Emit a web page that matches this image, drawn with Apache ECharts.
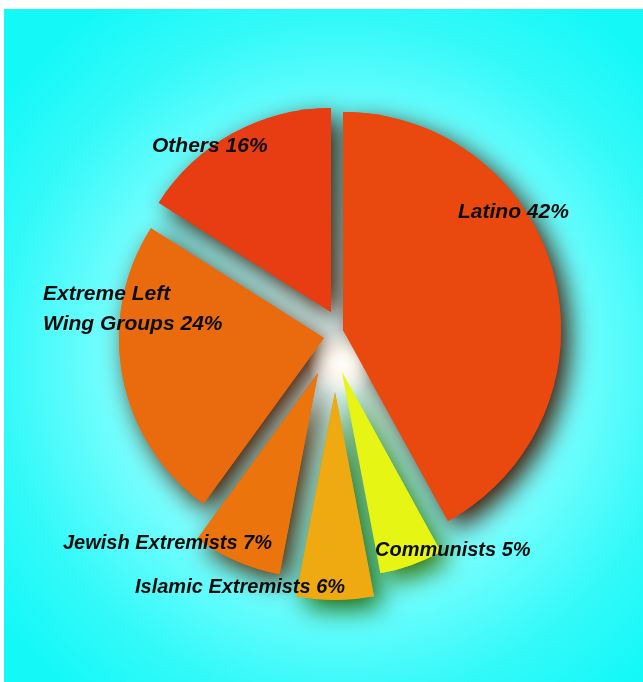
<!DOCTYPE html>
<html><head><meta charset="utf-8">
<script src="https://cdn.jsdelivr.net/npm/echarts@6/dist/echarts.min.js"></script>
<style>
html,body{margin:0;padding:0;background:#fff;}
#chart{position:absolute;left:4px;top:9px;width:639px;height:673px;
background:radial-gradient(circle at 337px 352px,#ffffff 0px,#e2ffff 35px,#b4ffff 110px,#88ffff 200px,#5efcfc 270px,#34f9f9 340px,#14f8f8 430px);}
</style></head><body><div id="chart"></div>
<script>
// ---- data ----
const categories = ['Latino', 'Communists', 'Islamic Extremists', 'Jewish Extremists', 'Extreme Left\nWing Groups', 'Others'];
const values = [42, 5, 6, 7, 24, 16];
const colors = ['#e9480e', '#e6f514', '#eeaa10', '#ec740c', '#ea6b0e', '#e83d12'];
const shadowColors = ['rgba(60,20,0,1)', 'rgba(50,110,0,1)', 'rgba(30,100,0,1)', 'rgba(70,35,0,1)', 'rgba(70,25,0,1)', 'rgba(60,20,0,1)'];

// ---- layout (page pixels): apex of each exploded slice, radius, label anchor ----
const OX = 4, OY = 9;
const layout = [
  { c: [343, 330], r: 218, lx: 458, ly: 212.5, fs: 21 },
  { c: [342, 372], r: 205, lx: 375, ly: 550, fs: 20 },
  { c: [335, 392], r: 208, lx: 135, ly: 587.5, fs: 20 },
  { c: [318, 373], r: 205, lx: 63, ly: 543, fs: 20 },
  { c: [324, 338], r: 205, lx: 43, ly: 309, fs: 21 },
  { c: [331, 312], r: 204, lx: 152, ly: 146.5, fs: 21 }
];

const chart = echarts.init(document.getElementById('chart'), null, { renderer: 'canvas' });
const total = values.reduce((a, b) => a + b, 0);
let cum = 0;
const series = [];
values.forEach((v, i) => {
  const start = 90 - cum / total * 360;
  cum += v;
  const L = layout[i];
  const base = {
    type: 'pie', clockwise: true, startAngle: start,
    center: [L.c[0] - OX, L.c[1] - OY], radius: [0, L.r],
    silent: true, animation: false, emphasis: { disabled: true },
    avoidLabelOverlap: false, labelLine: { show: false }, tooltip: { show: false }
  };
  const rest = { name: '_rest', value: total - v, itemStyle: { color: 'rgba(0,0,0,0)', shadowBlur: 0 }, label: { show: false } };
  // shadow layer
  series.push(Object.assign({}, base, {
    z: 1,
    label: { show: false },
    data: [{ name: categories[i], value: v, itemStyle: { color: colors[i], shadowBlur: 26, shadowOffsetX: 8, shadowOffsetY: 9, shadowColor: shadowColors[i] } }, rest]
  }));
  // slice layer
  series.push(Object.assign({}, base, {
    z: 3,
    label: {
      show: true, position: 'inside',
      formatter: p => p.name + ' ' + p.value + '%',
      fontFamily: 'Liberation Sans', fontWeight: 'bold', fontStyle: 'italic',
      fontSize: L.fs, color: '#0c0c0c', lineHeight: 30
    },
    labelLayout: () => ({ x: L.lx - OX, y: L.ly - OY, align: 'left', verticalAlign: 'middle' }),
    data: [{ name: categories[i], value: v, itemStyle: { color: colors[i] } }, rest]
  }));
});

chart.setOption({
  backgroundColor: 'transparent',
  animation: false,
  graphic: {
    elements: [{
      type: 'circle', z: 2, silent: true,
      shape: { cx: 342 - OX, cy: 364 - OY, r: 34 },
      style: {
        fill: {
          type: 'radial', x: 0.5, y: 0.5, r: 0.5,
          colorStops: [
            { offset: 0, color: 'rgba(255,255,255,1)' },
            { offset: 0.3, color: 'rgba(255,250,240,0.85)' },
            { offset: 1, color: 'rgba(255,240,220,0)' }
          ]
        }
      }
    }]
  },
  series: series
});
</script></body></html>
